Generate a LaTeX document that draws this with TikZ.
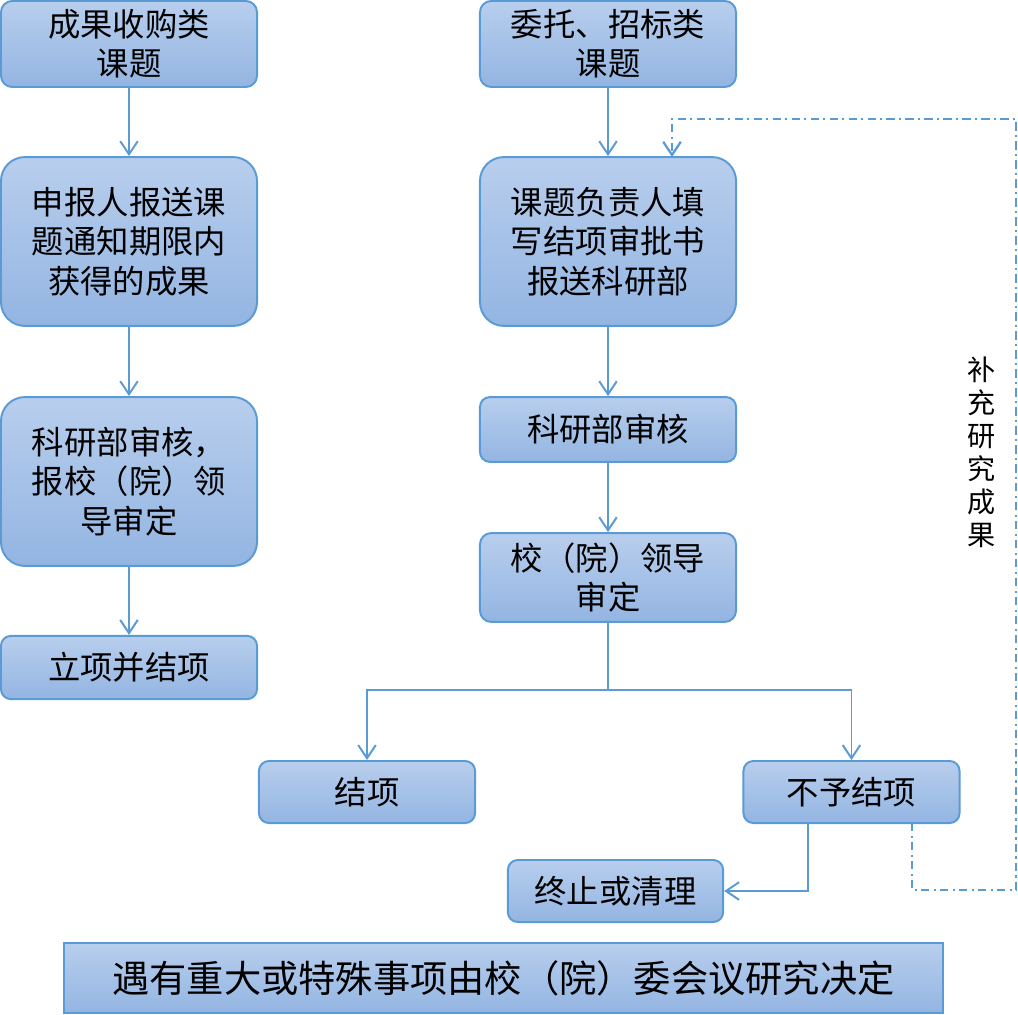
\documentclass[tikz,border=0pt]{standalone}
\usepackage{fontspec}
\setmainfont{Noto Sans CJK SC}
\usepackage{tikz}
\usetikzlibrary{arrows.meta}
\definecolor{boxtop}{RGB}{184,206,237}
\definecolor{boxbot}{RGB}{147,181,226}
\definecolor{lineblue}{RGB}{91,155,213}

\begin{document}
\begin{tikzpicture}[x=0.025cm, y=-0.025cm,
    box/.style={draw=lineblue, line width=1.4pt, top color=boxtop, bottom color=boxbot,
      align=center, inner sep=0pt, font=\fontsize{23}{28}\selectfont},
    arr/.style={lineblue, line width=1.4pt, -{Straight Barb[length=3.3mm, width=4.4mm]}},
    fb/.style={lineblue, line width=1.6pt, dash pattern=on 6pt off 3pt on 1.5pt off 3pt}]
  \useasboundingbox (0,0) rectangle (1018,1014);
  % left column
  \node[box, rounded corners=8pt, minimum width=6.4cm, minimum height=2.15cm] (a1) at (129,44) {成果收购类\\课题};
  \node[box, rounded corners=17pt, minimum width=6.4cm, minimum height=4.22cm] (a2) at (129,241.5) {申报人报送课\\题通知期限内\\获得的成果};
  \node[box, rounded corners=17pt, minimum width=6.4cm, minimum height=4.22cm] (a3) at (129,481.5) {科研部审核，\\报校（院）领\\导审定};
  \node[box, rounded corners=7pt, minimum width=6.4cm, minimum height=1.58cm] (a4) at (129,667.5) {立项并结项};
  \draw[arr] (a1) -- (a2);
  \draw[arr] (a2) -- (a3);
  \draw[arr] (a3) -- (a4);
  % right column
  \node[box, rounded corners=8pt, minimum width=6.4cm, minimum height=2.15cm] (b1) at (608,44) {委托、招标类\\课题};
  \node[box, rounded corners=17pt, minimum width=6.4cm, minimum height=4.22cm] (b2) at (608,241.5) {课题负责人填\\写结项审批书\\报送科研部};
  \node[box, rounded corners=7pt, minimum width=6.4cm, minimum height=1.62cm] (b3) at (608,429.5) {科研部审核};
  \node[box, rounded corners=8pt, minimum width=6.4cm, minimum height=2.22cm] (b4) at (608,577.5) {校（院）领导\\审定};
  \draw[arr] (b1) -- (b2);
  \draw[arr] (b2) -- (b3);
  \draw[arr] (b3) -- (b4);
  % results
  \node[box, rounded corners=7pt, minimum width=5.4cm, minimum height=1.55cm] (c1) at (367,792) {结项};
  \node[box, rounded corners=7pt, minimum width=5.4cm, minimum height=1.55cm] (c2) at (851.5,792) {不予结项};
  \node[box, rounded corners=7pt, minimum width=5.38cm, minimum height=1.55cm] (c3) at (615.5,891) {终止或清理};
  \coordinate (split) at (608,690);
  \draw[lineblue, line width=1.4pt] (b4) -- (split);
  \draw[arr] (split) -| (c1);
  \draw[arr] (split) -| (c2);
  \coordinate (c2l) at (808,823);
  \draw[arr] (c2l) |- (c3);
  % feedback loop
  \coordinate (c2r) at (912,823);
  \coordinate (b2in) at (672,157);
  \draw[fb, -{Straight Barb[length=3.3mm, width=4.4mm]}] (c2r) |- (1016,890) |- (672,119) -- (b2in);
  \node[align=center, font=\fontsize{20}{23.5}\selectfont] (more) at (982,452) {补\\充\\研\\究\\成\\果};
  % bottom note
  \node[box, minimum width=21.98cm, minimum height=1.75cm, font=\fontsize{26.5}{30}\selectfont] (note) at (503.5,978) {遇有重大或特殊事项由校（院）委会议研究决定};
\end{tikzpicture}
\end{document}
